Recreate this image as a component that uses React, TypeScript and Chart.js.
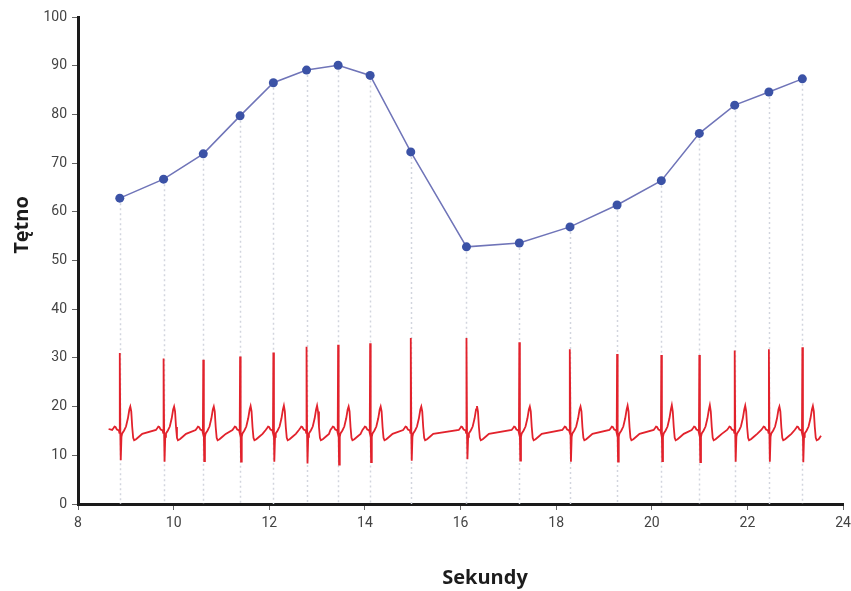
import React, { useEffect, useRef } from "react";
import { Chart, registerables } from "chart.js";

Chart.register(...registerables);

// Heart-rate samples (seconds, bpm)
const hrTimes = [8.874, 9.79, 10.62, 11.39, 12.086, 12.78, 13.44, 14.11, 14.96, 16.125, 17.23, 18.29, 19.275, 20.2, 20.995, 21.735, 22.45, 23.15];
const hrValues = [62.8, 66.7, 71.9, 79.7, 86.5, 89.1, 90.1, 88.0, 72.3, 52.8, 53.6, 56.9, 61.4, 66.4, 76.1, 81.9, 84.6, 87.3];

// ECG beat features (one per beat, R peak at hrTimes)
const rPeaks = [31.0, 29.9, 29.6, 30.3, 31.1, 32.3, 32.7, 33.0, 34.1, 34.1, 33.2, 31.8, 30.8, 30.6, 30.6, 31.5, 31.8, 32.2];
const sTroughs = [9.0, 8.7, 8.8, 8.7, 8.7, 8.3, 8.1, 8.6, 8.9, 9.2, 8.9, 8.7, 8.7, 8.8, 8.6, 8.7, 8.7, 8.6];
const tPeaks = [20.0, 20.0, 20.0, 20.1, 20.2, 20.2, 20.0, 20.0, 20.0, 20.1, 20.0, 20.0, 20.2, 20.3, 20.3, 20.2, 20.0, 20.1];

// Shape of one heartbeat around the R peak: offset (s) and level
const beatOffsets = [-0.16, -0.13, -0.11, -0.09, -0.06, -0.02, -0.008, 0, 0.012, 0.02, 0.035, 0.05, 0.09, 0.13, 0.17, 0.2, 0.22, 0.24, 0.26, 0.28, 0.3, 0.34, 0.4, 0.47];
const beatLevels = [15.2, 15.6, 15.9, 15.8, 15.3, 15.1, 14.6, NaN, 14.0, NaN, 13.8, 14.5, 15.1, 15.9, 17.6, 19.4, NaN, 19.0, 15.8, 13.6, 13.1, 13.3, 13.8, 14.4];

const ecgStart = { x: 8.64, y: 15.4 };
const ecgEnd = { x: 23.54, y: 14.0 };

const xTicks = [8, 10, 12, 14, 16, 18, 20, 22, 24];
const yTicks = [0, 10, 20, 30, 40, 50, 60, 70, 80, 90, 100];

function buildEcg() {
  const pts: { x: number; y: number }[] = [ecgStart];
  hrTimes.forEach((t, i) => {
    const last = i === hrTimes.length - 1;
    beatOffsets.forEach((o, j) => {
      if (last && o > 0.37) return;
      let v = beatLevels[j];
      if (o === 0) v = rPeaks[i];
      else if (o === 0.02) v = sTroughs[i];
      else if (o === 0.22) v = tPeaks[i];
      pts.push({ x: +(t + o).toFixed(3), y: v });
    });
  });
  pts.push(ecgEnd);
  return pts;
}

const dropLines = {
  id: "dropLines",
  beforeDatasetsDraw(chart: any) {
    const { ctx, scales } = chart;
    const xs = scales.x, ys = scales.y;
    ctx.save();
    ctx.strokeStyle = "#d2d5de";
    ctx.lineWidth = 1.5;
    ctx.setLineDash([2, 3]);
    hrTimes.forEach((t, i) => {
      const px = Math.round(xs.getPixelForValue(t)) + 0.5;
      ctx.beginPath();
      ctx.moveTo(px, ys.getPixelForValue(hrValues[i]));
      ctx.lineTo(px, ys.getPixelForValue(0));
      ctx.stroke();
    });
    ctx.restore();
  },
};

const axisTitles = {
  id: "axisTitles",
  afterDraw(chart: any) {
    const { ctx } = chart;
    ctx.save();
    ctx.fillStyle = "#1c1c1c";
    ctx.font = "bold 20px 'Open Sans'";
    ctx.textAlign = "center";
    ctx.textBaseline = "middle";
    ctx.fillText("Sekundy", 485, 578);
    ctx.translate(22, 225);
    ctx.rotate(-Math.PI / 2);
    ctx.fillText("Tętno", 0, 0);
    ctx.restore();
  },
};

export default function App() {
  const ref = useRef<HTMLCanvasElement>(null);
  useEffect(() => {
    if (!ref.current) return;
    const chart = new Chart(ref.current, {
      type: "scatter",
      data: {
        datasets: [
          {
            label: "EKG",
            data: buildEcg(),
            showLine: true,
            borderColor: "#e2222c",
            borderWidth: 1.8,
            pointRadius: 0,
            tension: 0,
          },
          {
            label: "Tętno",
            data: hrTimes.map((t, i) => ({ x: t, y: hrValues[i] })),
            showLine: true,
            borderColor: "#6f74b8",
            borderWidth: 1.5,
            pointRadius: 4.5,
            pointBackgroundColor: "#3b52a6",
            pointBorderWidth: 0,
            tension: 0,
          },
        ],
      },
      options: {
        animation: false,
        responsive: true,
        maintainAspectRatio: false,
        layout: { padding: { top: 17, right: 8, left: 0, bottom: 0 } },
        plugins: { legend: { display: false }, tooltip: { enabled: false } },
        scales: {
          x: {
            type: "linear",
            min: 8,
            max: 24,
            afterBuildTicks: (s: any) => { s.ticks = xTicks.map((v) => ({ value: v })); },
            afterFit: (s: any) => { s.height = 87; s.paddingRight = 0; s.paddingLeft = 0; },
            border: { color: "#1a1a1a", width: 3 },
            grid: { drawOnChartArea: false, tickLength: 6, color: "#666", lineWidth: 1 },
            ticks: { color: "#444", font: { family: "Roboto", size: 14 }, padding: 5 },
          },
          y: {
            type: "linear",
            min: 0,
            max: 100,
            afterBuildTicks: (s: any) => { s.ticks = yTicks.map((v) => ({ value: v })); },
            afterFit: (s: any) => { s.width = 78; s.paddingTop = 0; s.paddingBottom = 0; },
            border: { color: "#1a1a1a", width: 3 },
            grid: { drawOnChartArea: false, tickLength: 6, color: "#666", lineWidth: 1 },
            ticks: { color: "#444", font: { family: "Roboto", size: 14 }, padding: 5 },
          },
        },
      },
      plugins: [dropLines, axisTitles],
    });
    return () => chart.destroy();
  }, []);
  return (
    <div style={{ position: "fixed", left: 0, top: 0, width: 851, height: 591, background: "#fff" }}>
      <canvas ref={ref} />
    </div>
  );
}
